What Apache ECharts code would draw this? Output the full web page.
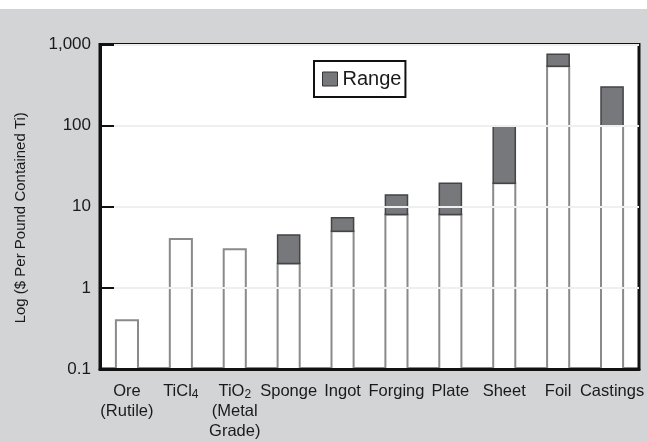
<!DOCTYPE html>
<html>
<head>
<meta charset="utf-8">
<script src="https://cdn.jsdelivr.net/npm/echarts@6/dist/echarts.min.js"></script>
<style>
html,body{margin:0;padding:0;background:#d3d4d6;}
#chart{width:647px;height:441px;}
</style>
</head>
<body>
<div id="chart"></div>
<script>
// ---- data ----
const categories = ['Ore\n(Rutile)', 'TiCl4', 'TiO2\n(Metal\nGrade)', 'Sponge', 'Ingot', 'Forging', 'Plate', 'Sheet', 'Foil', 'Castings'];
const lowValues  = [0.4, 4, 3, 2, 5, 8, 8, 19.5, 540, 100];
const highValues = [null, null, null, 4.5, 7.3, 14, 19.5, 100, 760, 300];
const yTickLabels = ['0.1', '1', '10', '100', '1,000'];
const yAxisTitle = 'Log ($ Per Pound Contained Ti)';
const legendName = 'Range';

const font = '"Liberation Sans", Arial, sans-serif';

const baseData = categories.map((c, i) => [i, lowValues[i]]);
const rangeData = [];
categories.forEach((c, i) => { if (highValues[i] != null) rangeData.push([i, lowValues[i], highValues[i]]); });

function bandW(api) { return Math.abs(api.coord([1, 1])[0] - api.coord([0, 1])[0]); }

const chart = echarts.init(document.getElementById('chart'), null, {renderer: 'canvas'});
chart.setOption({
  backgroundColor: '#d3d4d6',
  animation: false,
  graphic: [{type: 'rect', left: 0, top: 0, shape: {width: 647, height: 9}, style: {fill: '#ffffff'}, z: -10}],
  grid: {left: 100, right: 5, top: 44.5, bottom: 72, show: true, backgroundColor: '#ffffff', borderColor: '#111', borderWidth: 3},
  legend: {
    data: [{name: legendName, icon: 'rect'}],
    left: 314, top: 61,
    backgroundColor: '#ffffff', borderColor: '#111', borderWidth: 2,
    padding: [8, 4, 8, 8],
    itemWidth: 15, itemHeight: 14, itemGap: 5,
    itemStyle: {color: '#77787c', borderColor: '#333', borderWidth: 1},
    textStyle: {fontFamily: font, fontSize: 20, color: '#1a1a1a', lineHeight: 18}
  },
  xAxis: {
    type: 'category',
    data: categories,
    z: 5,
    axisLine: {show: true, lineStyle: {color: '#111', width: 3}},
    axisTick: {show: false},
    axisLabel: {
      interval: 0,
      margin: 12,
      fontFamily: font, fontSize: 16.5, lineHeight: 20, color: '#1a1a1a',
      formatter: v => v.replace(/^(Ti(?:Cl|O))(\d)/, '$1{sub|$2}'),
      rich: {sub: {fontFamily: font, fontSize: 12, lineHeight: 20, padding: [8, 0, 0, 0], color: '#1a1a1a'}}
    },
    splitLine: {show: false}
  },
  yAxis: {
    type: 'log', logBase: 10, min: 0.1, max: 1000,
    z: 5,
    name: yAxisTitle, nameLocation: 'middle', nameRotate: 90, nameGap: 72,
    nameTextStyle: {fontFamily: font, fontSize: 15, color: '#1a1a1a', padding: [0, 22, 0, 0]},
    axisLine: {show: true, lineStyle: {color: '#111', width: 3}},
    axisTick: {show: true, inside: true, length: 14, lineStyle: {color: '#111', width: 2}},
    axisLabel: {
      margin: 9, fontFamily: font, fontSize: 17, color: '#1a1a1a',
      formatter: v => yTickLabels[Math.round(Math.log10(v)) + 1]
    },
    splitLine: {show: true, lineStyle: {color: '#efefef', width: 2}}
  },
  series: [
    {
      type: 'custom', name: 'Base', data: baseData, encode: {x: 0, y: 1},
      renderItem: (params, api) => {
        const top = api.coord([api.value(0), api.value(1)]);
        const bot = api.coord([api.value(0), 0.1]);
        const w = bandW(api) * 0.41;
        return {type: 'rect', shape: {x: top[0] - w / 2, y: top[1], width: w, height: bot[1] - top[1]},
          style: {fill: '#ffffff', stroke: '#8a8a8a', lineWidth: 2}};
      }
    },
    {
      type: 'custom', name: legendName, data: rangeData, encode: {x: 0, y: [1, 2]},
      itemStyle: {color: '#77787c'},
      renderItem: (params, api) => {
        const lo = api.coord([api.value(0), api.value(1)]);
        const hi = api.coord([api.value(0), api.value(2)]);
        const w = bandW(api) * 0.41;
        return {type: 'rect', shape: {x: hi[0] - w / 2, y: hi[1], width: w, height: lo[1] - hi[1]},
          style: {fill: '#77787c', stroke: '#444', lineWidth: 1.5}};
      }
    }
  ]
});
</script>
</body>
</html>
